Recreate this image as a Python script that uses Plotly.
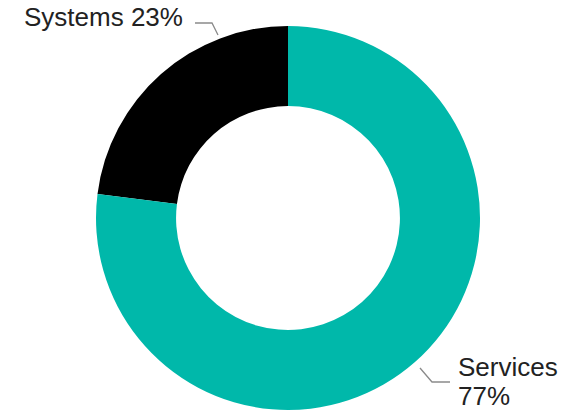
import plotly.graph_objects as go

labels = ["Systems", "Services"]
values = [23, 77]
colors = ["#000000", "#00B8AA"]

W, H = 574, 411
cx, cy, r = 288, 218, 192

def px(x):
    return x / W

def py(y):
    return 1 - y / H

fig = go.Figure(go.Pie(
    labels=labels, values=values, hole=0.583, sort=False,
    direction="clockwise", rotation=-82.8,
    marker=dict(colors=colors, line=dict(width=0)),
    textinfo="none", hoverinfo="label+percent", showlegend=False,
    domain=dict(x=[px(cx - r), px(cx + r)], y=[py(cy + r), py(cy - r)]),
))

font = dict(family="Liberation Sans, Arial, sans-serif", size=26, color="#222222")
line_col = "#8a8a8a"

fig.add_annotation(x=px(22), y=py(28), xref="paper", yref="paper",
                   text=f"{labels[0]} {values[0]}%", showarrow=False,
                   xanchor="left", yanchor="bottom", font=font, yshift=-6)
fig.add_annotation(x=px(456), y=py(378), xref="paper", yref="paper",
                   text=labels[1], showarrow=False,
                   xanchor="left", yanchor="bottom", font=font, yshift=-6)
fig.add_annotation(x=px(456), y=py(407), xref="paper", yref="paper",
                   text=f"{values[1]}%", showarrow=False,
                   xanchor="left", yanchor="bottom", font=font, yshift=-6)

def seg(pts):
    d = "M " + " L ".join(f"{px(x)},{py(y)}" for x, y in pts)
    fig.add_shape(type="path", path=d, xref="paper", yref="paper",
                  line=dict(color=line_col, width=1.3))

seg([(195, 23), (212, 23), (218, 35)])
seg([(420, 368), (432, 382), (450, 382)])

fig.update_layout(width=W, height=H, margin=dict(l=0, r=0, t=0, b=0),
                  paper_bgcolor="white", plot_bgcolor="white")
fig.write_html("out.html")
